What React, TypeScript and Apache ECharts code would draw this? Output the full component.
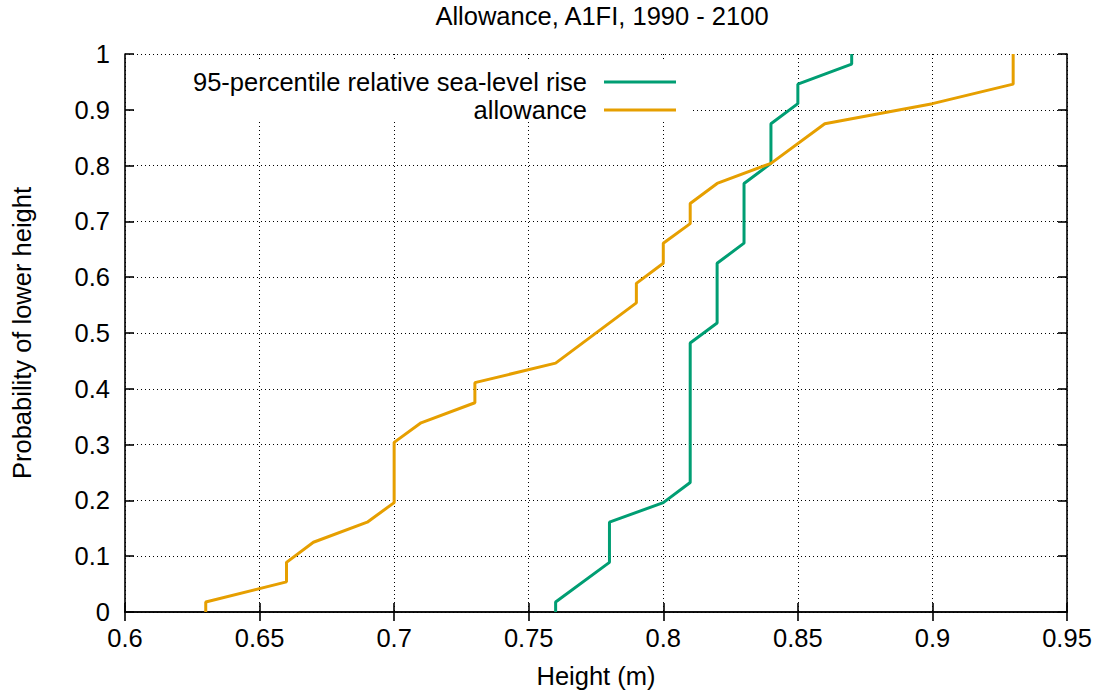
import React, { useEffect, useRef } from "react";
import * as echarts from "echarts";

const titleText = "Allowance, A1FI, 1990 - 2100";
const xName = "Height (m)";
const yName = "Probability of lower height";

const seriesNames = ["95-percentile relative sea-level rise", "allowance"];
const seriesColors = ["#009e73", "#e69f00"];

const riseX = [0.76, 0.76, 0.78, 0.78, 0.80, 0.81, 0.81, 0.82, 0.82, 0.83, 0.83, 0.84, 0.84, 0.85, 0.85, 0.87, 0.87];
const riseY = [0, 0.018, 0.089, 0.161, 0.196, 0.232, 0.482, 0.518, 0.625, 0.661, 0.768, 0.804, 0.875, 0.911, 0.946, 0.982, 1.0];

const allowX = [0.63, 0.63, 0.66, 0.66, 0.67, 0.69, 0.70, 0.70, 0.71, 0.73, 0.73, 0.76, 0.79, 0.79, 0.80, 0.80, 0.81, 0.81, 0.82, 0.84, 0.86, 0.90, 0.93, 0.93];
const allowY = [0, 0.018, 0.054, 0.089, 0.125, 0.161, 0.196, 0.304, 0.339, 0.375, 0.411, 0.446, 0.554, 0.589, 0.625, 0.661, 0.696, 0.732, 0.768, 0.804, 0.875, 0.911, 0.946, 1.0];

const xMin = 0.6, xMax = 0.95, xStep = 0.05;
const yMin = 0, yMax = 1, yStep = 0.1;

const FONT = "'Liberation Sans', Arial, sans-serif";
const FS = 25.5;

function pairs(xs: number[], ys: number[]) {
  return xs.map((x, i) => [x, ys[i]]);
}

export default function App() {
  const ref = useRef<HTMLDivElement>(null);
  useEffect(() => {
    if (!ref.current) return;
    const chart = echarts.init(ref.current, null, { renderer: "svg" });
    const axisLine = { show: true, lineStyle: { color: "#000", width: 1.6 } };
    const tick = { show: true, inside: true, length: 9, lineStyle: { color: "#000", width: 1.6 } };
    const split = { show: true, lineStyle: { color: "#000", width: 1, type: [1, 3] as any } };
    const fmt = (v: number) => String(parseFloat(v.toFixed(2)));
    chart.setOption({
      animation: false,
      backgroundColor: "#fff",
      textStyle: { fontFamily: FONT },
      title: {
        text: titleText,
        left: 597,
        textAlign: "center",
        top: -2,
        textStyle: { fontFamily: FONT, fontSize: FS, fontWeight: "normal", color: "#000" },
      },
      grid: { left: 125, right: 38, top: 54, bottom: 80, containLabel: false, outerBoundsMode: "none" },
      legend: [
        {
          data: [seriesNames[0]],
          right: 429,
          top: 69,
          padding: 0,
          align: "right",
          icon: "rect",
          itemWidth: 72,
          itemHeight: 3,
          textStyle: { fontFamily: FONT, fontSize: FS, color: "#000", padding: [0, 12, 0, 0] },
        },
        {
          data: [seriesNames[1]],
          right: 429,
          top: 97,
          padding: 0,
          align: "right",
          icon: "rect",
          itemWidth: 72,
          itemHeight: 3,
          textStyle: { fontFamily: FONT, fontSize: FS, color: "#000", padding: [0, 12, 0, 0] },
        },
      ],
      xAxis: [
        {
          type: "value",
          min: xMin,
          max: xMax,
          interval: xStep,
          name: xName,
          nameLocation: "middle",
          nameGap: 51,
          nameTextStyle: { fontFamily: FONT, fontSize: FS, color: "#000" },
          axisLine,
          axisTick: tick,
          splitLine: split,
          axisLabel: { fontFamily: FONT, fontSize: FS, color: "#000", margin: 13, formatter: fmt },
        },
        {
          type: "value",
          position: "top",
          min: xMin,
          max: xMax,
          interval: xStep,
          axisLine,
          axisTick: tick,
          splitLine: { show: false },
          axisLabel: { show: false },
        },
      ],
      yAxis: [
        {
          type: "value",
          min: yMin,
          max: yMax,
          interval: yStep,
          name: yName,
          nameLocation: "middle",
          nameGap: 90,
          nameTextStyle: { fontFamily: FONT, fontSize: FS, color: "#000" },
          axisLine,
          axisTick: tick,
          splitLine: split,
          axisLabel: { fontFamily: FONT, fontSize: FS, color: "#000", margin: 15, formatter: fmt },
        },
        {
          type: "value",
          position: "right",
          min: yMin,
          max: yMax,
          interval: yStep,
          axisLine,
          axisTick: tick,
          splitLine: { show: false },
          axisLabel: { show: false },
        },
      ],
      graphic: [
        {
          type: "rect",
          z: 1,
          shape: { x: 134, y: 62, width: 556, height: 60 },
          style: { fill: "#fff" },
          silent: true,
        },
      ],
      series: [
        {
          name: seriesNames[0],
          type: "line",
          data: pairs(riseX, riseY),
          showSymbol: false,
          symbol: "none",
          color: seriesColors[0],
          lineStyle: { color: seriesColors[0], width: 3 },
          z: 3,
        },
        {
          name: seriesNames[1],
          type: "line",
          data: pairs(allowX, allowY),
          showSymbol: false,
          symbol: "none",
          color: seriesColors[1],
          lineStyle: { color: seriesColors[1], width: 3 },
          z: 3,
        },
      ],
    });
    return () => chart.dispose();
  }, []);
  return <div ref={ref} style={{ width: 1105, height: 692, position: "absolute", left: 0, top: 0 }} />;
}
